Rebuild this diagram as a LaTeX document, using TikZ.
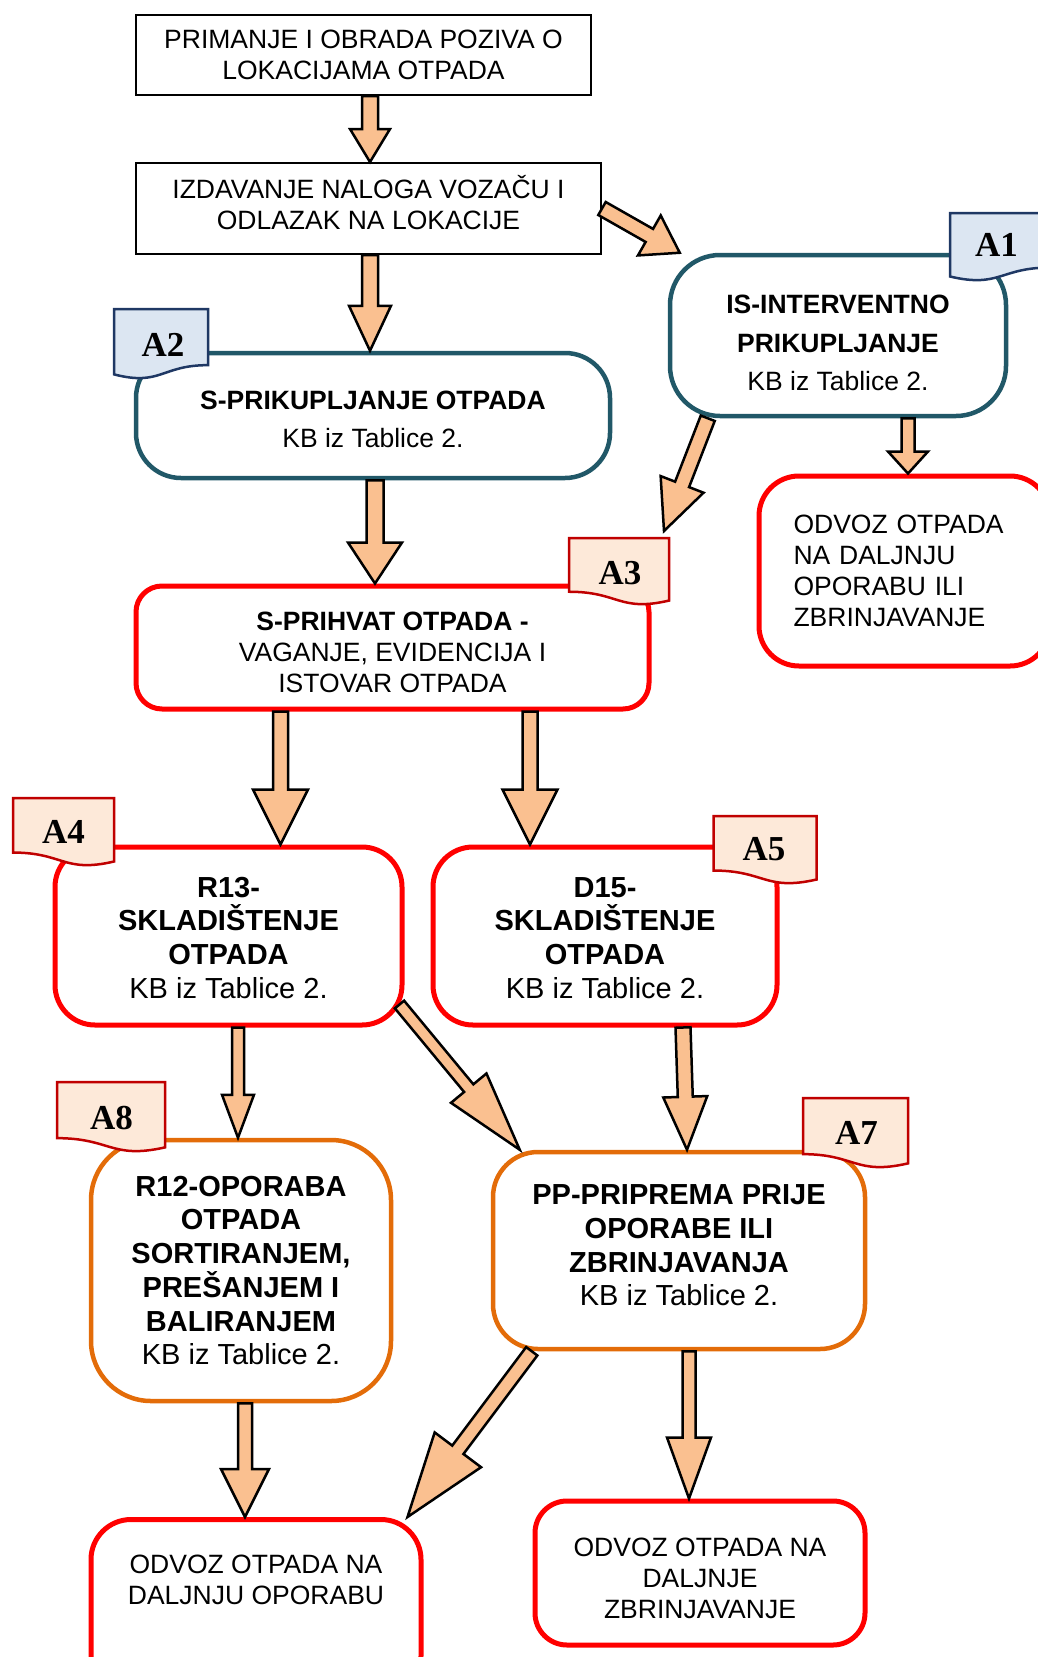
\documentclass[tikz,border=0pt]{standalone}
\usepackage{fontspec}
\setmainfont{Liberation Sans}
\newfontfamily\tagfont{Liberation Serif}
\usetikzlibrary{calc}
\definecolor{tealline}{HTML}{215868}
\definecolor{redline}{HTML}{FF0000}
\definecolor{orangeline}{HTML}{E36C09}
\definecolor{arrowfill}{HTML}{FAC090}
\definecolor{bluetagfill}{HTML}{DCE6F2}
\definecolor{bluetagline}{HTML}{1F3864}
\definecolor{redtagfill}{HTML}{FDE9D9}
\definecolor{redtagline}{HTML}{C00000}

\begin{document}
\begin{tikzpicture}[x=1pt, y=-1pt,
  plainbox/.style={draw=black, line width=2pt, align=center, font=\fontsize{26.5}{31}\selectfont},
  tealbox/.style={draw=tealline, line width=4.5pt, align=center, font=\fontsize{26.5}{38.5}\selectfont},
  redbox/.style={draw=redline, line width=5pt, align=center, font=\fontsize{26.5}{31}\selectfont},
  orangebox/.style={draw=orangeline, line width=4.5pt, align=center, font=\fontsize{29}{33.7}\selectfont},
  bigtext/.style={font=\fontsize{29}{33.7}\selectfont},
  textdown/.style={text height=#1, text depth=0pt},
  fatarrow/.style={draw=black, fill=arrowfill, line width=2.5pt, line join=miter},
  bluetag/.style={draw=bluetagline, fill=bluetagfill, line width=2.5pt},
  redtag/.style={draw=redtagline, fill=redtagfill, line width=2.5pt},
  tagtext/.style={font=\tagfont\bfseries\fontsize{35}{35}\selectfont, inner sep=0pt}]
\newcommand\FatArrow[5]{%
  \coordinate (fa) at ($(#2)!#5!(#1)$);
  \filldraw[fatarrow] ($(#1)!#3!90:(#2)$) -- ($(fa)!#3!90:(#2)$) -- ($(fa)!#4!90:(#2)$) -- (#2)
    -- ($(fa)!#4!-90:(#2)$) -- ($(fa)!#3!-90:(#2)$) -- ($(#1)!#3!-90:(#2)$) -- cycle;}
\newcommand\TagShape[3]{(#1) -- +(#2,0) -- +(#2,0.802*#3) .. controls ($(#1)+(0.5*#2,0.802*#3)$) and ($(#1)+(0.5*#2,1.107*#3)$) .. ($(#1)+(0,0.934*#3)$) -- cycle}
\newcommand\TagShapeFlip[3]{(#1) -- +(#2,0) -- +(#2,0.934*#3) .. controls ($(#1)+(0.5*#2,1.107*#3)$) and ($(#1)+(0.5*#2,0.802*#3)$) .. ($(#1)+(0,0.802*#3)$) -- cycle}
\useasboundingbox (0,0) rectangle (1038,1657);

% boxes
\node[plainbox, minimum width=455pt, minimum height=80pt] (prijem) at (363.5,55) {PRIMANJE I OBRADA POZIVA O\\LOKACIJAMA OTPADA};
\node[plainbox, textdown=42.4pt, minimum width=465pt, minimum height=91pt] (nalog) at (368.5,208.5) {IZDAVANJE NALOGA VOZAČU I\\ODLAZAK NA LOKACIJE};
\node[tealbox, textdown=110.8pt, rounded corners=50pt, minimum width=336pt, minimum height=161pt] (intervent) at (838,335.5) {\textbf{IS-INTERVENTNO}\\\textbf{PRIKUPLJANJE}\\KB iz Tablice 2.};
\node[tealbox, textdown=64pt, rounded corners=45pt, minimum width=474pt, minimum height=125pt] (prikup) at (373,415.5) {\textbf{S-PRIKUPLJANJE OTPADA}\\KB iz Tablice 2.};
\node[redbox, rounded corners=40pt, minimum width=291pt, minimum height=190pt, text width=222pt, inner xsep=34.5pt, align=left] (odvozA) at (904.5,571) {ODVOZ OTPADA\\NA DALJNJU\\OPORABU ILI\\ZBRINJAVANJE};
\node[redbox, textdown=89pt, rounded corners=26pt, minimum width=513pt, minimum height=123pt] (prihvat) at (392.5,647.5) {\textbf{S-PRIHVAT OTPADA -}\\VAGANJE, EVIDENCIJA I\\ISTOVAR OTPADA};
\node[redbox, bigtext, textdown=124.6pt, rounded corners=40pt, minimum width=347pt, minimum height=178pt] (r13) at (228.5,936) {\textbf{R13-}\\\textbf{SKLADIŠTENJE}\\\textbf{OTPADA}\\KB iz Tablice 2.};
\node[redbox, bigtext, textdown=124.6pt, rounded corners=40pt, minimum width=344pt, minimum height=178pt] (d15) at (605,936) {\textbf{D15-}\\\textbf{SKLADIŠTENJE}\\\textbf{OTPADA}\\KB iz Tablice 2.};
\node[orangebox, rounded corners=60pt, minimum width=300pt, minimum height=261pt] (r12) at (241,1270.5) {\textbf{R12-OPORABA}\\\textbf{OTPADA}\\\textbf{SORTIRANJEM,}\\\textbf{PREŠANJEM I}\\\textbf{BALIRANJEM}\\KB iz Tablice 2.};
\node[orangebox, textdown=110.8pt, rounded corners=45pt, minimum width=372pt, minimum height=197pt] (pp) at (679,1250.5) {\textbf{PP-PRIPREMA PRIJE}\\\textbf{OPORABE ILI}\\\textbf{ZBRINJAVANJA}\\KB iz Tablice 2.};
\node[redbox, rounded corners=40pt, anchor=north, minimum width=330pt, inner ysep=35pt, text depth=57pt] (odvozB) at (256,1517) {ODVOZ OTPADA NA\\DALJNJU OPORABU};
\node[redbox, textdown=91.8pt, rounded corners=32pt, minimum width=330pt, minimum height=144pt] (odvozC) at (700,1573) {ODVOZ OTPADA NA\\DALJNJE\\ZBRINJAVANJE};

% arrows
\coordinate (t3) at (664,531);
\FatArrow{[xshift=6.5pt]prijem.south}{[xshift=1.5pt]nalog.north}{8pt}{20pt}{33pt}
\FatArrow{nalog.east}{[xshift=12pt]intervent.north west}{7.5pt}{23pt}{35pt}
\FatArrow{[xshift=1.5pt]nalog.south}{[xshift=-3pt]prikup.north}{8pt}{21pt}{45pt}
\FatArrow{[xshift=2pt]prikup.south}{[xshift=-17.5pt]prihvat.north}{8.5pt}{27pt}{41pt}
\FatArrow{[xshift=40pt]intervent.south west}{t3}{7.5pt}{23pt}{50pt}
\FatArrow{[xshift=70pt]intervent.south}{[xshift=3.5pt]odvozA.north}{6.5pt}{20pt}{22pt}
\FatArrow{[xshift=-112pt]prihvat.south}{[xshift=52pt]r13.north}{7.5pt}{27.5pt}{55pt}
\FatArrow{[xshift=137.5pt]prihvat.south}{[xshift=-75pt]d15.north}{7.5pt}{27.5pt}{55pt}
\FatArrow{[xshift=9.5pt]r13.south}{[xshift=-3pt]r12.north}{6pt}{16pt}{43pt}
\FatArrow{[xshift=-5pt,yshift=23pt]r13.south east}{[xshift=29pt]pp.north west}{6pt}{23pt}{80pt}
\FatArrow{[xshift=78pt]d15.south}{[xshift=8pt]pp.north}{7.5pt}{22pt}{53pt}
\FatArrow{[xshift=4pt]r12.south}{[xshift=-11pt]odvozB.north}{7pt}{24pt}{48pt}
\FatArrow{[xshift=41pt]pp.south west}{[xshift=-16pt]odvozB.north east}{7pt}{29pt}{84pt}
\FatArrow{[xshift=10pt]pp.south}{[xshift=-11pt]odvozC.north}{6.5pt}{22pt}{61pt}

% tags
\filldraw[bluetag] \TagShape{950,213}{100}{68};
\node[tagtext] (tagA1) at (996.5,245) {A1};
\filldraw[bluetag] \TagShape{114,309}{94}{70};
\node[tagtext] (tagA2) at (163,345) {A2};
\filldraw[redtag] \TagShapeFlip{569,538}{100}{67};
\node[tagtext] (tagA3) at (620,573.5) {A3};
\filldraw[redtag] \TagShapeFlip{13,798}{101}{68};
\node[tagtext] (tagA4) at (63.5,832) {A4};
\filldraw[redtag] \TagShapeFlip{713.5,816}{103}{68};
\node[tagtext] (tagA5) at (764,849) {A5};
\filldraw[redtag] \TagShapeFlip{803,1098}{105}{70};
\node[tagtext] (tagA7) at (856.5,1132.5) {A7};
\filldraw[redtag] \TagShapeFlip{57,1082}{108}{70};
\node[tagtext] (tagA8) at (111.5,1118.5) {A8};
\end{tikzpicture}
\end{document}
